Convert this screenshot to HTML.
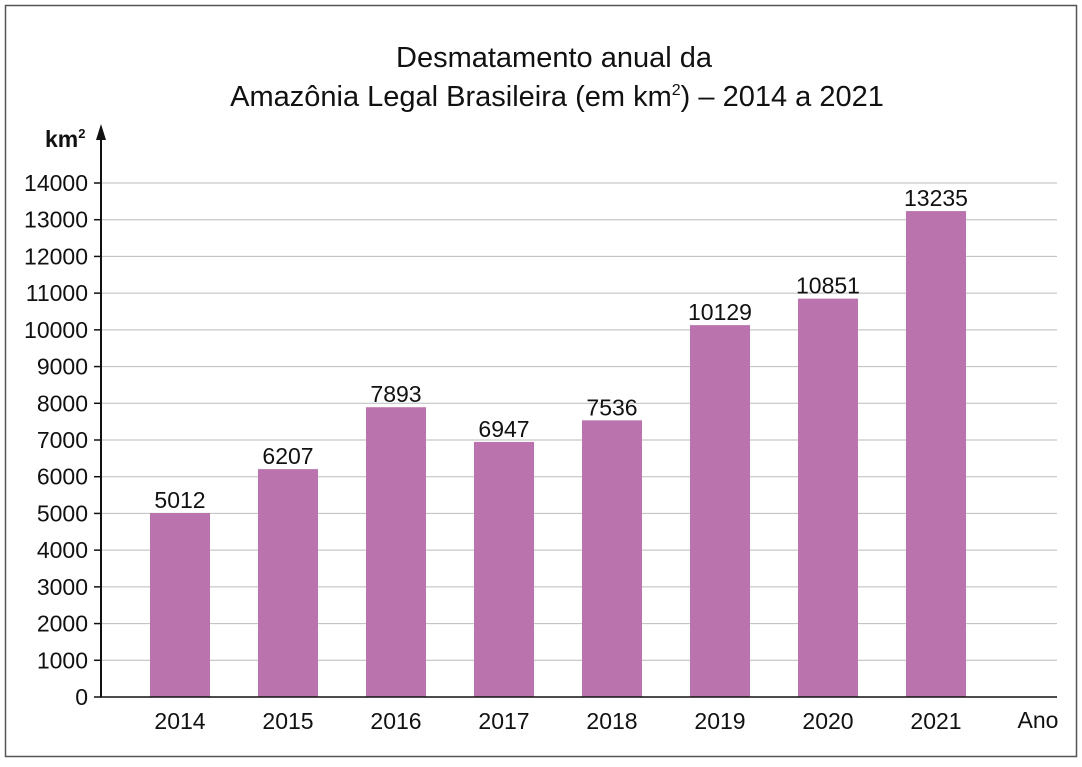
<!DOCTYPE html>
<html><head><meta charset="utf-8"><style>
body{margin:0;background:#fff}
svg text{font-family:"Liberation Sans",sans-serif;fill:#111}
</style></head><body>
<svg id="c" width="1082" height="762">
<rect x="5.5" y="5.5" width="1071" height="751" fill="#fff" stroke="#555" stroke-width="1.5"/>
<text x="554" y="67" font-size="29" text-anchor="middle">Desmatamento anual da</text>
<text x="557" y="106" font-size="29" text-anchor="middle">Amazônia Legal Brasileira (em km<tspan font-size="16" dy="-11">2</tspan><tspan dy="11">) – 2014 a 2021</tspan></text>
<text x="45" y="147" font-size="23" font-weight="bold">km<tspan font-size="13" dy="-9">2</tspan></text>
<text x="1038" y="728" font-size="23" text-anchor="middle">Ano</text>
<g id="grid"></g><g id="bars"></g>
<line x1="101" y1="697" x2="101" y2="135" stroke="#111" stroke-width="2"/>
<polygon points="101,124 96,140 106,140" fill="#111"/>
<line x1="100" y1="697" x2="1057" y2="697" stroke="#111" stroke-width="1.5"/>
</svg>
<script>
const categories=["2014","2015","2016","2017","2018","2019","2020","2021"];
const values=[5012,6207,7893,6947,7536,10129,10851,13235];
const yTicks=[0,1000,2000,3000,4000,5000,6000,7000,8000,9000,10000,11000,12000,13000,14000];
const NS="http://www.w3.org/2000/svg";
const y=v=>697-v*(697-183)/14000;
const x=i=>180+i*108;
const grid=document.getElementById('grid'),bars=document.getElementById('bars');
function mk(tag,a,p){const e=document.createElementNS(NS,tag);for(const k in a)e.setAttribute(k,a[k]);p.appendChild(e);return e;}
yTicks.forEach(t=>{
  if(t>0){const g=mk('line',{x1:101,x2:1057,y1:y(t),y2:y(t),stroke:'#bbb','stroke-width':1},grid);
  
  }
  const tk=mk('line',{x1:94,x2:101,y1:y(t),y2:y(t),stroke:'#111','stroke-width':1.5},grid);
  
  
  const l=mk('text',{x:88,y:y(t)+8,'font-size':23,'text-anchor':'end'},grid);l.textContent=t;
  
  
});
categories.forEach((c,i)=>{
  const b=mk('rect',{x:x(i)-30,y:y(values[i]),width:60,height:697-y(values[i]),fill:'#bb73ad'},bars);
  
  
  const v=mk('text',{x:x(i),y:y(values[i])-5,'font-size':23,'text-anchor':'middle'},bars);v.textContent=values[i];
  
  
  const l=mk('text',{x:x(i),y:729,'font-size':23,'text-anchor':'middle'},bars);l.textContent=c;
  
  
});
</script>
</body></html>
